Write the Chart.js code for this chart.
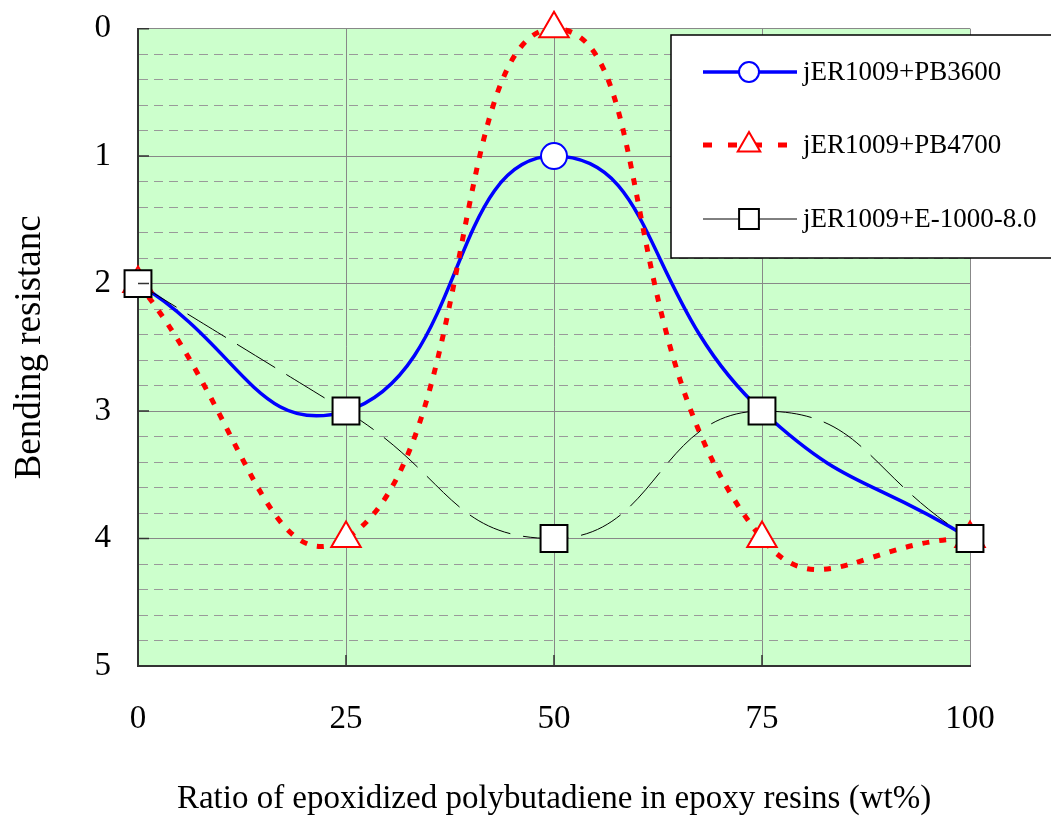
<!DOCTYPE html>
<html>
<head>
<meta charset="utf-8">
<script src="https://cdn.jsdelivr.net/npm/chart.js@4/dist/chart.umd.min.js"></script>
<style>
  html, body { margin: 0; padding: 0; background: #fff; }
  #wrap { width: 1051px; height: 819px; }
</style>
</head>
<body>
<div id="wrap"><canvas id="chart"></canvas></div>
<script>
const ratios = [0, 25, 50, 75, 100];
const pb3600 = [2, 3, 1, 3, 4];
const pb4700 = [2, 4, 0, 4, 4];
const e1000 = [2, 3, 4, 3, 4];
const seriesNames = ['jER1009+PB3600', 'jER1009+PB4700', 'jER1009+E-1000-8.0'];

const serif = "'Liberation Serif', 'Times New Roman', serif";

function pts(vals) {
    return ratios.map((r, i) => ({ x: r, y: vals[i] }));
}
function isMajor(v) {
    return Math.abs(v - Math.round(v)) < 1e-6;
}

// green plot background
const plotBg = {
    id: 'plotBg',
    beforeDraw(chart) {
        const a = chart.chartArea;
        const ctx = chart.ctx;
        ctx.save();
        ctx.fillStyle = '#CCFFCC';
        ctx.fillRect(a.left, a.top, a.right - a.left, a.bottom - a.top);
        ctx.restore();
    }
};

// short tick marks pointing into the plot
const innerTicks = {
    id: 'innerTicks',
    afterDatasetsDraw(chart) {
        const ctx = chart.ctx;
        const xs = chart.scales.x, ys = chart.scales.y;
        const a = chart.chartArea;
        ctx.save();
        ctx.strokeStyle = '#333';
        ctx.lineWidth = 1.5;
        ctx.beginPath();
        for (let v = 0; v <= 5; v++) {
            const py = ys.getPixelForValue(v);
            ctx.moveTo(a.left, py);
            ctx.lineTo(a.left + 11, py);
        }
        for (const r of ratios.slice(1, -1)) {
            const px = xs.getPixelForValue(r);
            ctx.moveTo(px, a.bottom);
            ctx.lineTo(px, a.bottom - 11);
        }
        ctx.stroke();
        ctx.restore();
    }
};

// legend box sitting over the top right of the plot
const boxLegend = {
    id: 'boxLegend',
    afterDraw(chart) {
        const ctx = chart.ctx;
        const left = 671, top = 35, w = 390, h = 223;
        ctx.save();
        ctx.fillStyle = '#fff';
        ctx.fillRect(left, top, w, h);
        ctx.strokeStyle = '#000';
        ctx.lineWidth = 1.5;
        ctx.strokeRect(left, top, w, h);
        const rows = [72, 145, 219];
        chart.data.datasets.forEach((ds, i) => {
            const y = rows[i];
            ctx.save();
            ctx.strokeStyle = ds.borderColor;
            ctx.lineWidth = ds.borderWidth;
            ctx.setLineDash(ds.legendDash || []);
            ctx.beginPath();
            ctx.moveTo(703, y);
            ctx.lineTo(797, y);
            ctx.stroke();
            ctx.restore();
            ctx.save();
            ctx.fillStyle = '#fff';
            ctx.strokeStyle = ds.pointBorderColor;
            ctx.lineWidth = ds.pointBorderWidth;
            Chart.helpers.drawPoint(ctx, { pointStyle: ds.pointStyle, radius: ds.legendRadius, rotation: 0, borderWidth: ds.pointBorderWidth }, 749, y);
            ctx.restore();
            ctx.fillStyle = '#000';
            ctx.font = '27px ' + serif;
            ctx.textBaseline = 'middle';
            ctx.fillText(ds.label, 803, y + 1);
        });
        ctx.restore();
    }
};

new Chart(document.getElementById('chart'), {
    type: 'line',
    data: {
        datasets: [{
            label: seriesNames[0],
            data: pts(pb3600),
            borderColor: '#0000FF',
            borderWidth: 3.5,
            pointStyle: 'circle',
            pointRadius: 13,
            legendRadius: 10,
            pointBackgroundColor: '#fff',
            pointBorderColor: '#0000FF',
            pointBorderWidth: 2,
            tension: 0.5,
            order: 3
        }, {
            label: seriesNames[1],
            data: pts(pb4700),
            borderColor: '#FF0000',
            borderWidth: 5,
            borderDash: [7, 10],
            legendDash: [9, 16],
            pointStyle: 'triangle',
            pointRadius: 17,
            legendRadius: 13,
            pointBackgroundColor: '#fff',
            pointBorderColor: '#FF0000',
            pointBorderWidth: 2,
            tension: 0.5,
            order: 2
        }, {
            label: seriesNames[2],
            data: pts(e1000),
            borderColor: '#000',
            borderWidth: 1,
            borderDash: [45, 13],
            legendDash: [],
            pointStyle: 'rect',
            pointRadius: 19,
            legendRadius: 14,
            pointBackgroundColor: '#fff',
            pointBorderColor: '#000',
            pointBorderWidth: 2,
            tension: 0.5,
            order: 1
        }]
    },
    options: {
        responsive: true,
        maintainAspectRatio: false,
        animation: false,
        clip: false,
        layout: { padding: { top: 0, right: 81, left: 6, bottom: 0 } },
        plugins: {
            legend: { display: false },
            tooltip: { enabled: false }
        },
        scales: {
            x: {
                type: 'linear',
                min: 0,
                max: 100,
                afterFit(scale) { scale.height = 153; },
                ticks: {
                    stepSize: 25,
                    padding: 34,
                    color: '#000',
                    font: { family: serif, size: 33 }
                },
                grid: {
                    color: '#888',
                    lineWidth: 1,
                    drawTicks: false
                },
                border: { color: '#333', width: 2 },
                title: {
                    display: true,
                    text: 'Ratio of epoxidized polybutadiene in epoxy resins (wt%)',
                    color: '#000',
                    font: { family: serif, size: 33 },
                    padding: { top: 10, bottom: 0 }
                }
            },
            y: {
                reverse: true,
                min: 0,
                max: 5,
                afterFit(scale) { scale.width = 132; },
                ticks: {
                    stepSize: 0.2,
                    autoSkip: false,
                    padding: 27,
                    color: '#000',
                    font: { family: serif, size: 33, lineHeight: 0.1 },
                    callback: (v) => isMajor(v) ? String(Math.round(v)) : ''
                },
                grid: {
                    color: (c) => isMajor(c.tick.value) ? '#888' : '#999',
                    lineWidth: 1,
                    drawTicks: false
                },
                border: {
                    color: '#333',
                    width: 2,
                    dash: (c) => (c.tick && !isMajor(c.tick.value)) ? [9, 6] : []
                },
                title: {
                    display: true,
                    text: 'Bending resistanc',
                    color: '#000',
                    font: { family: serif, size: 37 },
                    padding: { top: 2, bottom: 14 }
                }
            }
        }
    },
    plugins: [plotBg, innerTicks, boxLegend]
});
</script>
</body>
</html>
